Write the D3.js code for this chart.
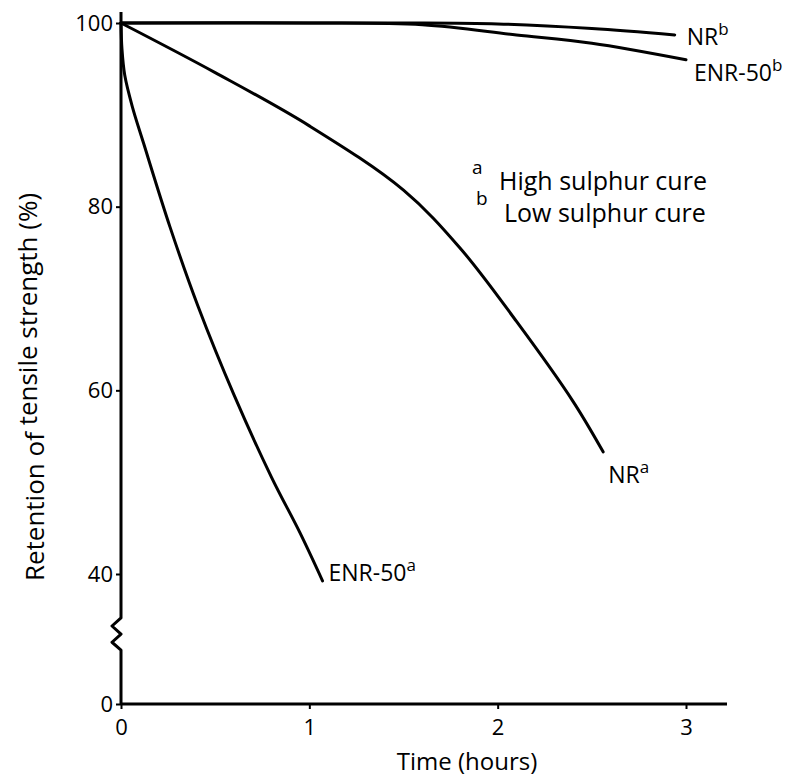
<!DOCTYPE html>
<html>
<head>
<meta charset="utf-8">
<script src="https://cdn.jsdelivr.net/npm/d3@7"></script>
<style>
  body { margin: 0; background: #fff; }
  text { font-family: "Open Sans", sans-serif; fill: #000; }
</style>
</head>
<body>
<div id="chart"></div>
<script>
// Values
var nrbTime = [0, 1.0, 1.5, 2.0, 2.5, 2.94];
var nrbVal = [100, 100, 100, 99.9, 99.4, 98.7];

var enrbTime = [0, 1.0, 1.6, 2.1, 2.5, 3.0];
var enrbVal = [100, 100, 99.8, 98.7, 97.8, 96.0];

var nraTime = [0, 0.5, 1.0, 1.5, 1.8, 2.1, 2.4, 2.56];
var nraVal = [100, 94.6, 88.8, 81.8, 75.5, 67.5, 58.8, 53.3];

var enraTime = [0, 0.005, 0.02, 0.06, 0.12, 0.26, 0.41, 0.6, 0.8, 0.95, 1.07];
var enraVal = [100, 97.2, 94.3, 90.9, 86.9, 77.8, 69.1, 59.5, 50.5, 44.5, 37.9];

var xTicks = [0, 1, 2, 3];
var yTicks = [0, 40, 60, 80, 100];

var w = 799;
var h = 780;

var svg = d3.select("#chart").append("svg").attr("width", w).attr("height", h);

// broken y axis: 0..40 is squeezed
var x = d3.scaleLinear().domain([0, 3]).range([121, 686]);
var y = d3.scaleLinear().domain([0, 40, 100]).range([704, 574, 23]);

function pts(t, v) {
    return t.map(function(d, i) { return [d, v[i]]; });
}

var series = [
    {name: "NR", sup: "b", data: pts(nrbTime, nrbVal), dx: 12, dy: 10},
    {name: "ENR-50", sup: "b", data: pts(enrbTime, enrbVal), dx: 8, dy: 21},
    {name: "NR", sup: "a", data: pts(nraTime, nraVal), dx: 5, dy: 31},
    {name: "ENR-50", sup: "a", data: pts(enraTime, enraVal), dx: 6, dy: 0}
];

// x axis
var xAxis = d3.axisBottom(x).tickValues(xTicks).tickSize(5).tickFormat(d3.format("d"));
var gx = svg.append("g").attr("transform", "translate(0," + y(0) + ")").call(xAxis);
gx.select(".domain").remove();
gx.selectAll("line").attr("stroke", "#000").attr("stroke-width", 2);
gx.selectAll("text").attr("font-size", "22px").attr("dy", "1.05em");
svg.append("line")
    .attr("x1", x(0)).attr("x2", 727)
    .attr("y1", y(0)).attr("y2", y(0))
    .attr("stroke", "#000").attr("stroke-width", 3);

// y axis
var yAxis = d3.axisLeft(y).tickValues(yTicks).tickSize(5);
var gy = svg.append("g").attr("transform", "translate(" + x(0) + ",0)").call(yAxis);
gy.select(".domain").remove();
gy.selectAll("line").attr("stroke", "#000").attr("stroke-width", 2);
gy.selectAll("text").attr("font-size", "22px").attr("x", -8);

// y axis line with a zigzag break
var zig = [[0, y(0)], [0, y(16.6)], [-9, y(19)], [0, y(21.5)], [-9, y(24)], [0, y(26.5)], [0, 12]];
svg.append("path")
    .attr("d", d3.line()(zig.map(function(p) { return [x(0) + p[0], p[1]]; })))
    .attr("fill", "none")
    .attr("stroke", "#000")
    .attr("stroke-width", 3)
    .attr("stroke-linejoin", "round");

// curves
var line = d3.line()
    .x(function(d) { return x(d[0]); })
    .y(function(d) { return y(d[1]); })
    .curve(d3.curveCatmullRom.alpha(0.5));

svg.selectAll(".curve")
    .data(series)
    .enter()
    .append("path")
    .attr("class", "curve")
    .attr("d", function(d) { return line(d.data); })
    .attr("fill", "none")
    .attr("stroke", "#000")
    .attr("stroke-width", 3)
    .attr("stroke-linecap", "round");

// end labels
var labels = svg.selectAll(".lbl")
    .data(series)
    .enter()
    .append("text")
    .attr("class", "lbl")
    .attr("x", function(d) { var e = d.data[d.data.length - 1]; return x(e[0]) + d.dx; })
    .attr("y", function(d) { var e = d.data[d.data.length - 1]; return y(e[1]) + d.dy; })
    .attr("font-size", "23px");
labels.append("tspan").text(function(d) { return d.name; });
labels.append("tspan").attr("dy", -10).attr("font-size", "17px").text(function(d) { return d.sup; });

// note
var note = svg.append("g").attr("transform", "translate(472,190)");
note.append("text").attr("x", 0).attr("y", -16).attr("font-size", "19px").text("a");
note.append("text").attr("x", 27).attr("y", 0).attr("font-size", "25px").text("High sulphur cure");
note.append("text").attr("x", 4).attr("y", 15).attr("font-size", "19px").text("b");
note.append("text").attr("x", 32).attr("y", 32).attr("font-size", "25px").text("Low sulphur cure");

// axis titles
svg.append("text")
    .attr("x", 467).attr("y", 770)
    .attr("text-anchor", "middle")
    .attr("font-size", "24px")
    .text("Time (hours)");

var yt = svg.append("text")
    .attr("transform", "translate(44,387) rotate(-90)")
    .attr("text-anchor", "middle")
    .attr("font-size", "26px");
yt.append("tspan").text("Retention of ");
yt.append("tspan").attr("dy", -7).text("tensile strength (%)");
</script>
</body>
</html>
